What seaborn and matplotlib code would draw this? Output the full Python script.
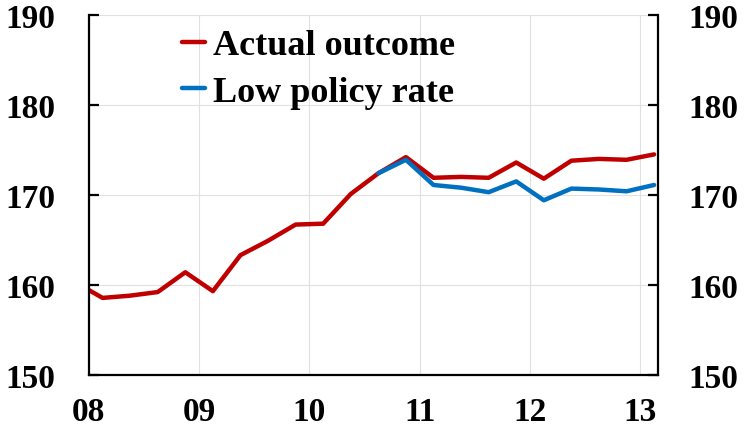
import numpy as np
import pandas as pd
import seaborn as sns
import matplotlib.pyplot as plt

# quarterly data, 2007Q4 - 2013Q1
quarters = ["07Q4", "08Q1", "08Q2", "08Q3", "08Q4", "09Q1", "09Q2", "09Q3", "09Q4",
            "10Q1", "10Q2", "10Q3", "10Q4", "11Q1", "11Q2", "11Q3", "11Q4",
            "12Q1", "12Q2", "12Q3", "12Q4", "13Q1"]
actual = [160.3, 158.55, 158.8, 159.2, 161.4, 159.3, 163.3, 164.9, 166.7,
          166.8, 170.1, 172.4, 174.2, 171.9, 172.0, 171.9, 173.6,
          171.8, 173.8, 174.0, 173.9, 174.5]
low_rate_quarters = ["10Q3", "10Q4", "11Q1", "11Q2", "11Q3", "11Q4",
                     "12Q1", "12Q2", "12Q3", "12Q4", "13Q1"]
low_rate = [172.4, 173.9, 171.1, 170.8, 170.3, 171.5,
            169.4, 170.7, 170.6, 170.4, 171.1]

year_ticks = [8, 9, 10, 11, 12, 13]
year_labels = ["08", "09", "10", "11", "12", "13"]


def qpos(q):
    # mid-quarter position on a year axis
    return int(q[:2]) + (int(q[3]) - 0.5) / 4


df = pd.concat([
    pd.DataFrame({"x": [qpos(q) for q in quarters], "y": actual,
                  "series": "Actual outcome"}),
    pd.DataFrame({"x": [qpos(q) for q in low_rate_quarters], "y": low_rate,
                  "series": "Low policy rate"}),
])

sns.set_style("white")
plt.rcParams["font.family"] = ["Liberation Serif", "DejaVu Serif"]
plt.rcParams["font.weight"] = "bold"
plt.rcParams["text.color"] = "black"

fig = plt.figure(figsize=(7.46, 4.31), dpi=100)
ax = fig.add_axes([0.119, 0.128, 0.763, 0.835])

sns.lineplot(data=df, x="x", y="y", hue="series",
             palette={"Actual outcome": "#C00000", "Low policy rate": "#0070C0"},
             linewidth=3.2, ax=ax, sort=False)

ax.set_xlim(8, 13.16)
ax.set_ylim(150, 190)
ax.set_xticks(year_ticks)
ax.set_xticklabels(year_labels)
ax.set_yticks([150, 160, 170, 180, 190])
ax.grid(True, color="#E0E0E0", linewidth=0.8)
ax.set_xlabel("")
ax.set_ylabel("")

for s in ["left", "bottom", "right"]:
    ax.spines[s].set_visible(True)
    ax.spines[s].set_color("black")
    ax.spines[s].set_linewidth(1.6)
ax.spines["top"].set_visible(False)

ax.tick_params(axis="both", direction="in", length=7, width=1.6,
               labelsize=24, colors="black")
ax.tick_params(axis="y", pad=24)
ax.tick_params(axis="x", pad=15)

ax2 = ax.twinx()
ax2.set_ylim(150, 190)
ax2.set_yticks([150, 160, 170, 180, 190])
ax2.tick_params(axis="y", direction="in", length=7, width=1.6,
                labelsize=24, pad=22, colors="black")
for s in ax2.spines.values():
    s.set_visible(False)
ax2.grid(False)

leg = ax.legend(loc="upper left", bbox_to_anchor=(0.163, 0.961), frameon=False,
                borderaxespad=0, borderpad=0,
                handlelength=0.64, handletextpad=0.22, labelspacing=0.375,
                prop={"size": 26, "weight": "bold"})
for line in leg.get_lines():
    line.set_linewidth(3.2)
for t in leg.get_texts():
    t.set_color("black")

fig.savefig("out.png", dpi=100)
